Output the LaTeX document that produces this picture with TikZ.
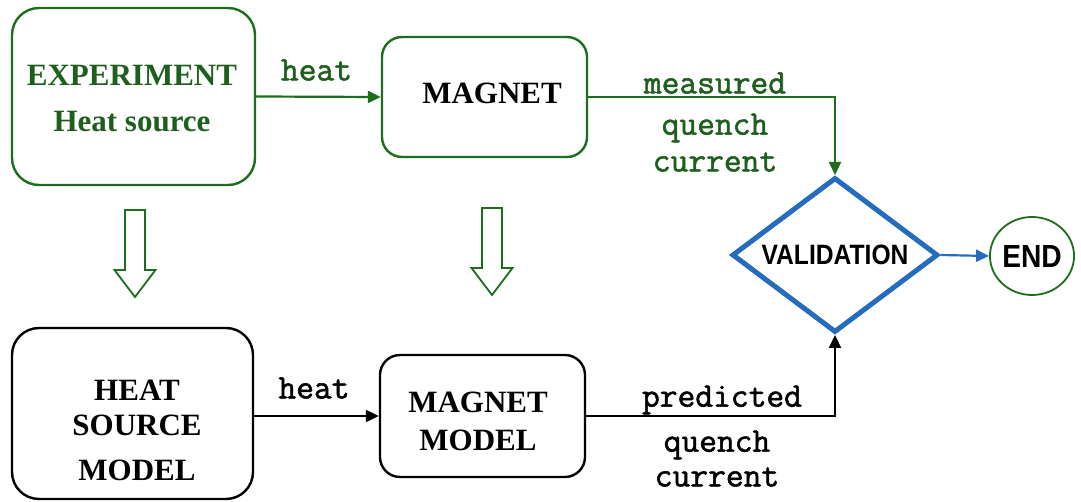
\documentclass[tikz,border=0pt]{standalone}
\usepackage{fontspec}
\usepackage{graphicx}
\setmainfont{Liberation Serif}
\setsansfont{Liberation Sans}
\newfontfamily\courfont{Latin Modern Mono}[FakeBold=1.6]
\usetikzlibrary{shapes.geometric,arrows.meta}
\definecolor{gline}{RGB}{28,110,28}
\definecolor{gtext}{RGB}{30,95,30}
\definecolor{bline}{RGB}{38,108,190}
\tikzset{
  box/.style={draw, line width=2.4pt, rounded corners=#1, inner sep=0pt},
  btxt/.style={font=\fontsize{31}{36}\selectfont\bfseries, inner sep=0pt},
  mtxt/.style={font=\fontsize{34.5}{38}\courfont, inner sep=0pt},
  garrow/.style={draw=gline, line width=2.2pt, -{Triangle[length=13pt,width=12pt]}},
  karrow/.style={draw=black, line width=2.2pt, -{Triangle[length=13pt,width=12pt]}},
  barrow/.style={draw=bline, line width=2.2pt, -{Triangle[length=13pt,width=12pt]}},
  hollow/.style={draw=gline, line width=1.8pt, fill=white, line join=miter},
}
\begin{document}
\begin{tikzpicture}[x=1pt,y=-1pt]
\useasboundingbox (0,0) rectangle (1081,502);
% boxes
\node[box=27pt, draw=gline, minimum width=243pt, minimum height=177pt] (exp) at (133.5,96.5) {};
\node[box=20pt, draw=gline, minimum width=205pt, minimum height=120pt] (mag) at (484.5,97) {};
\node[box=27pt, draw=black, minimum width=241pt, minimum height=171pt] (hsm) at (132.5,413.5) {};
\node[box=20pt, draw=black, minimum width=205pt, minimum height=122pt] (mm) at (482.5,416) {};
% box texts
\node[btxt, text=gtext] (t1) at (132,75) {EXPERIMENT};
\node[btxt, text=gtext] (t2) at (132,122) {Heat source};
\node[btxt] (t3) at (492,93) {MAGNET};
\node[btxt] (t4) at (137,390) {HEAT};
\node[btxt] (t5) at (137,425) {SOURCE};
\node[btxt] (t6) at (137,470) {MODEL};
\node[btxt] (t7) at (478,402) {MAGNET};
\node[btxt] (t8) at (478,440) {MODEL};
% validation and end
\node[diamond, draw=bline, line width=5pt, shape aspect=1.33, minimum width=206pt, minimum height=155pt, inner sep=0pt,
      font=\fontsize{28}{30}\selectfont\sffamily\bfseries] (val) at (835,255) {\scalebox{0.88}[1]{VALIDATION}};
\node[ellipse, draw=gline, line width=1.8pt, minimum width=80pt, minimum height=78pt, inner sep=0pt,
      font=\fontsize{32}{34}\selectfont\sffamily\bfseries] (end) at (1032,256) {\scalebox{0.88}[1]{END}};
% connectors
\draw[garrow] (exp.east) -- (mag.west);
\draw[karrow] (mm.west -| hsm.east) -- (mm.west);
\draw[garrow] (mag.east) -| (val.north);
\draw[karrow] (mm.east) -| (val.south);
\draw[barrow] (val.east) -- (end.west);
% labels
\node[mtxt, text=gtext] (l1) at (316.5,70) {heat};
\node[mtxt] (l2) at (314,388) {heat};
\node[mtxt, text=gtext] (l3) at (715,83) {measured};
\node[mtxt, text=gtext] (l4) at (715,128) {quench};
\node[mtxt, text=gtext] (l5) at (715,162) {current};
\node[mtxt] (l6) at (722,400) {predicted};
\node[mtxt] (l7) at (717,445) {quench};
\node[mtxt] (l8) at (717,477) {current};
% hollow arrows
\draw[hollow] (125,210) -- (145,210) -- (145,270) -- (155.5,270) -- (135,297) -- (114.5,270) -- (125,270) -- cycle;
\draw[hollow] (482,208) -- (502,208) -- (502,268) -- (512.5,268) -- (492,295) -- (471.5,268) -- (482,268) -- cycle;
\end{tikzpicture}
\end{document}
